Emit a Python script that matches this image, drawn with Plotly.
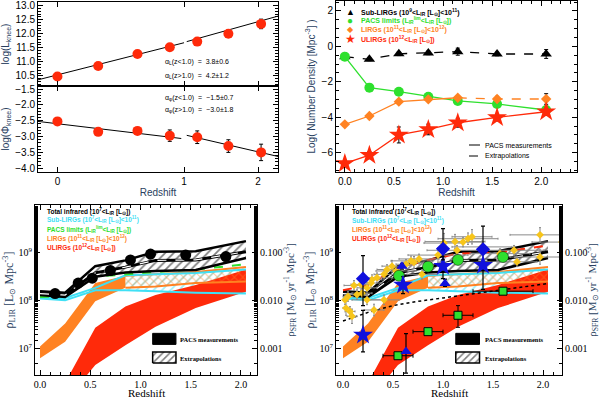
import numpy as np
import plotly.graph_objects as go

# ---------------- data ----------------
z_bins = [0.0, 0.25, 0.55, 0.85, 1.15, 1.55, 2.05]

# top-left: knee luminosity / density
log_lknee = [10.48, 10.85, 11.28, 11.52, 11.72, 12.0, 12.35]
log_lknee_err = [0.05, 0.05, 0.06, 0.1, 0.08, 0.1, 0.17]
log_phiknee = [-2.52, -2.85, -2.82, -2.97, -3.02, -3.3, -3.5]
log_phiknee_err = [0.06, 0.05, 0.1, 0.18, 0.2, 0.2, 0.26]
fit_l_lo_z, fit_l_lo = [-0.101, 1.0], [10.36, 11.68]
fit_l_hi_z, fit_l_hi = [1.03, 2.35], [11.72, 12.63]
fit_p_lo_z, fit_p_lo = [-0.101, 0.97], [-2.52, -3.06]
fit_p_hi_z, fit_p_hi = [1.03, 2.35], [-2.96, -3.63]

# top-right: number densities
nd_sub = [-0.58, -0.73, -0.42, -0.37, -0.3, -0.43, -0.43]
nd_sub_err = [0.1, 0.08, 0.1, 0.1, 0.2, 0.1, 0.25]
nd_lim = [-0.58, -2.33, -2.56, -2.84, -3.08, -3.25, -3.59]
nd_lim_err = [0.05, 0.05, 0.05, 0.05, 0.05, 0.05, 0.1]
nd_lirg = [-4.4, -3.93, -3.12, -2.99, -2.9, -2.97, -2.97]
nd_lirg_err = [0.1, 0.1, 0.1, 0.1, 0.12, 0.15, 0.3]
nd_ulirg = [-6.61, -6.14, -5.0, -4.69, -4.31, -4.01, -3.69]
nd_ulirg_err = [0.15, 0.2, 0.45, 0.3, 0.25, 0.2, 0.2]

# bottom: luminosity density bands (log10 L_sun Mpc^-3)
tot_up = [8.20, 8.17, 8.72, 8.84, 9.02, 9.03, 9.24]
tot_lo = [8.12, 8.08, 8.50, 8.59, 8.62, 8.64, 8.89]
tot_mid = [8.15, 8.12, 8.58, 8.70, 8.84, 8.85, 9.02]
sub_up = [8.10, 8.06, 8.27, 8.53, 8.55, 8.58, 8.65]
sub_lo = [8.05, 8.01, 8.22, 8.22, 8.20, 8.17, 8.15]
lirg_z_meas = [0.0, 0.25, 0.55, 0.85]
lirg_up_meas = [7.05, 7.53, 8.37, 8.52]
lirg_lo_meas = [6.81, 7.15, 7.99, 8.27]
lirg_z_ext = [0.85, 1.15, 1.55, 2.05]
lirg_up_ext = [8.52, 8.55, 8.60, 8.70]
lirg_lo_ext = [8.27, 8.30, 8.37, 8.40]
ulirg_z = [0.25, 0.55, 0.85, 1.15, 1.55, 2.05]
ulirg_up = [6.3, 7.44, 7.88, 8.12, 8.33, 8.65]
ulirg_lo = [5.9, 6.67, 7.08, 7.46, 7.85, 8.19]
lim_line = [8.08, 8.10, 8.50, 8.55, 8.60, 8.65, 8.76]

tot_pts_z = [0.15, 0.38, 0.52, 0.70, 0.90, 1.10, 1.45, 1.85]
tot_pts = [8.15, 8.37, 8.47, 8.63, 8.85, 8.97, 8.95, 8.92]

# bottom-right: models and literature
model_red_z = z_bins
model_red = [8.22, 8.33, 8.68, 8.85, 8.98, 9.0, 9.15]
model_dot_z = [0.0, 0.25, 0.5, 0.75, 1.0, 1.5, 2.05]
model_dot = [7.58, 7.76, 7.90, 7.99, 8.06, 8.20, 8.36]

sq_z = [0.55, 0.85, 1.15, 1.6]
sq_v = [6.86, 7.36, 7.70, 8.20]
sq_zerr = [0.15, 0.15, 0.15, 0.3]
sq_hi = [6.92, 7.42, 7.90, 8.25]
sq_lo = [6.80, 7.30, 7.45, 8.15]

star_z = [0.2, 0.6, 1.0, 1.4]
star_v = [7.29, 8.33, 8.72, 8.74]
star_hi = [7.80, 8.50, 9.01, 9.55]
star_lo = [6.94, 8.15, 8.46, 8.24]

dia_z = [0.2, 1.0, 1.4]
dia_v = [8.46, 9.08, 9.07]
dia_hi = [8.94, 9.50, 9.12]
dia_lo = [7.90, 8.85, 9.02]

tri_z = [0.59, 1.02, 0.63]
tri_v = [8.72, 8.36, 6.95]
tri_hi = [8.78, 8.45, 7.32]
tri_lo = [8.66, 8.30, 6.50]

circ_z = [0.56, 0.85, 1.15, 1.6]
circ_v = [8.52, 8.71, 8.85, 8.91]

lit_z = [0.02, 0.03, 0.05, 0.07, 0.09, 0.11, 0.14, 0.18, 0.19, 0.24, 0.24, 0.28, 0.29,
         0.31, 0.34, 0.41, 0.41, 0.44, 0.49, 0.53, 0.63, 0.68, 0.71, 0.76, 0.79,
         0.95, 1.01, 1.12, 1.20, 1.25, 1.29, 1.14, 1.39, 1.57, 1.71, 1.74, 1.97, 1.97, 2.19]
lit_v = [8.02, 7.85, 8.09, 7.78, 7.68, 8.32, 8.13, 8.34, 8.16, 8.27, 8.02, 8.37, 8.44,
         7.81, 8.48, 8.55, 8.02, 8.65, 8.72, 8.62, 8.76, 8.83, 8.80, 8.87, 8.55,
         8.95, 9.20, 9.23, 9.22, 9.29, 9.33, 9.05, 9.12, 8.98, 9.05, 8.81, 9.37, 8.91, 9.22]
lit_zerr = [0.02, 0.03, 0.05, 0.05, 0.05, 0.1, 0.1, 0.1, 0.1, 0.1, 0.15, 0.1, 0.1,
            0.1, 0.15, 0.1, 0.15, 0.1, 0.1, 0.2, 0.1, 0.2, 0.1, 0.2, 0.15,
            0.3, 0.2, 0.3, 0.2, 0.3, 0.2, 0.3, 0.3, 0.3, 0.3, 0.2, 0.3, 0.3, 0.3]
lit_verr = [0.1, 0.15, 0.1, 0.1, 0.15, 0.1, 0.1, 0.12, 0.1, 0.12, 0.1, 0.1, 0.1,
            0.12, 0.1, 0.1, 0.1, 0.1, 0.12, 0.1, 0.1, 0.1, 0.12, 0.1, 0.1,
            0.15, 0.2, 0.15, 0.1, 0.12, 0.15, 0.1, 0.12, 0.1, 0.1, 0.1, 0.15, 0.15, 0.1]

RED = '#ff2a0a'
ORANGE = '#ff8222'
CYAN = '#3fe0f5'
GREEN = '#2ee02e'
BLUE = '#1010dd'
GOLD = '#f7c51a'
GRAY = '#8a8a8a'

fig = go.Figure()


def lin(v):
    return 10 ** np.array(v, dtype=float)


def errs(v, hi, lo):
    return dict(type='data', symmetric=False, array=lin(hi) - lin(v), arrayminus=lin(v) - lin(lo))


def band(z, up, lo, xa, ya, color, pattern=None, bg='rgba(0,0,0,0)'):
    xs = list(z) + list(z)[::-1]
    ys = list(lin(up)) + list(lin(lo))[::-1]
    kw = dict(fill='toself', mode='none', x=xs, y=ys, xaxis=xa, yaxis=ya, hoverinfo='skip')
    if pattern:
        kw['fillpattern'] = dict(shape=pattern, fgcolor=color, bgcolor=bg, size=6, solidity=0.3)
        kw['fillcolor'] = bg
    else:
        kw['fillcolor'] = color
    fig.add_trace(go.Scatter(**kw))


def line(z, v, xa, ya, color, width=1.5, dash='solid', log=True):
    fig.add_trace(go.Scatter(x=z, y=lin(v) if log else v, mode='lines', xaxis=xa, yaxis=ya,
                             line=dict(color=color, width=width, dash=dash), hoverinfo='skip'))


# ---------------- top-left ----------------
zp1 = [1 + z for z in z_bins]
line([1 + z for z in fit_l_lo_z], fit_l_lo, 'x', 'y', 'black', 1, log=False)
line([1 + z for z in fit_l_hi_z], fit_l_hi, 'x', 'y', 'black', 1, log=False)
line([1 + z for z in fit_p_lo_z], fit_p_lo, 'x2', 'y2', 'black', 1, log=False)
line([1 + z for z in fit_p_hi_z], fit_p_hi, 'x2', 'y2', 'black', 1, log=False)
fig.add_trace(go.Scatter(x=zp1, y=log_lknee, mode='markers', xaxis='x', yaxis='y',
                         marker=dict(color=RED, size=10),
                         error_y=dict(array=log_lknee_err, color='black', thickness=1, width=2)))
fig.add_trace(go.Scatter(x=zp1, y=log_phiknee, mode='markers', xaxis='x2', yaxis='y2',
                         marker=dict(color=RED, size=10),
                         error_y=dict(array=log_phiknee_err, color='black', thickness=1, width=2)))

# ---------------- top-right ----------------
line(z_bins, nd_sub, 'x3', 'y3', 'black', 1.3, 'dash', log=False)
line(z_bins, nd_lim, 'x3', 'y3', GREEN, 1.3, log=False)
line(z_bins[:5], nd_lirg[:5], 'x3', 'y3', ORANGE, 1.3, log=False)
line(z_bins[4:], nd_lirg[4:], 'x3', 'y3', ORANGE, 1.3, 'dash', log=False)
line(z_bins, nd_ulirg, 'x3', 'y3', RED, 1.3, log=False)
for vals, err, sym, col, size in [(nd_sub, nd_sub_err, 'triangle-up', 'black', 10),
                                  (nd_lim, nd_lim_err, 'circle', GREEN, 10),
                                  (nd_lirg, nd_lirg_err, 'diamond', ORANGE, 8),
                                  (nd_ulirg, nd_ulirg_err, 'star', RED, 15)]:
    fig.add_trace(go.Scatter(x=z_bins, y=vals, mode='markers', xaxis='x3', yaxis='y3',
                             marker=dict(symbol=sym, color=col, size=size, line=dict(width=0)),
                             error_y=dict(array=err, color='black', thickness=1, width=2)))


# ---------------- bottom panels ----------------
def bands(xa, ya, with_limits):
    band(z_bins[1:], sub_up[1:], sub_lo[1:], xa, ya, CYAN, '/', 'white')
    band(ulirg_z, ulirg_up, ulirg_lo, xa, ya, RED)
    band(lirg_z_ext, lirg_up_ext, lirg_lo_ext, xa, ya, ORANGE, 'x')
    band(lirg_z_meas, lirg_up_meas, lirg_lo_meas, xa, ya, ORANGE)
    band(z_bins[:2], sub_up[:2], sub_lo[:2], xa, ya, CYAN)
    line(lirg_z_ext, lirg_up_ext, xa, ya, ORANGE, 2)
    line(lirg_z_ext, lirg_lo_ext, xa, ya, ORANGE, 2)
    line(z_bins, sub_up, xa, ya, CYAN, 2)
    line(z_bins, sub_lo, xa, ya, CYAN, 2)
    if with_limits:
        line(z_bins, lim_line, xa, ya, GREEN, 2, 'dash')
    band(z_bins, tot_up, tot_lo, xa, ya, 'black', '/', 'white')
    line(z_bins, tot_up, xa, ya, 'black', 2.5)
    line(z_bins, tot_lo, xa, ya, 'black', 2.5)
    line(z_bins, tot_mid, xa, ya, 'black', 3)
    line(z_bins, tot_mid, xa, ya, 'white', 1.2, 'dash')


bands('x4', 'y4', True)
fig.add_trace(go.Scatter(x=tot_pts_z, y=lin(tot_pts), mode='markers', xaxis='x4', yaxis='y4',
                         marker=dict(color='black', size=11)))

bands('x6', 'y6', False)
line(model_red_z, model_red, 'x6', 'y6', RED, 2, 'dash')
line(model_dot_z, model_dot, 'x6', 'y6', 'black', 1.5, 'dot')
fig.add_trace(go.Scatter(x=lit_z, y=lin(lit_v), mode='markers', xaxis='x6', yaxis='y6',
                         marker=dict(symbol='diamond', color=GOLD, size=6),
                         error_x=dict(array=lit_zerr, color=GRAY, thickness=1, width=1),
                         error_y=errs(lit_v, np.add(lit_v, lit_verr), np.subtract(lit_v, lit_verr))
                         | dict(color=GRAY, thickness=1, width=1)))
fig.add_trace(go.Scatter(x=circ_z, y=lin(circ_v), mode='markers', xaxis='x6', yaxis='y6',
                         marker=dict(color=GREEN, size=11, line=dict(color='black', width=0.5))))
fig.add_trace(go.Scatter(x=sq_z, y=lin(sq_v), mode='markers', xaxis='x6', yaxis='y6',
                         marker=dict(symbol='square', color=GREEN, size=8, line=dict(color='black', width=1)),
                         error_x=dict(array=sq_zerr, color='black', thickness=1, width=2),
                         error_y=errs(sq_v, sq_hi, sq_lo) | dict(color='black', thickness=1, width=2)))
for zz, vv, hi, lo, sym, size in [(star_z, star_v, star_hi, star_lo, 'star', 15),
                                  (dia_z, dia_v, dia_hi, dia_lo, 'diamond', 11),
                                  (tri_z, tri_v, tri_hi, tri_lo, 'triangle-up', 10)]:
    fig.add_trace(go.Scatter(x=zz, y=lin(vv), mode='markers', xaxis='x6', yaxis='y6',
                             marker=dict(symbol=sym, color=BLUE, size=size, line=dict(width=0)),
                             error_y=errs(vv, hi, lo) | dict(color='black', thickness=1.2, width=2)))

# invisible traces so the SFR axes get drawn
for xa, ya in [('x4', 'y5'), ('x6', 'y7')]:
    fig.add_trace(go.Scatter(x=[1.0], y=[0.01], mode='markers', xaxis=xa, yaxis=ya,
                             marker=dict(opacity=0), hoverinfo='skip'))

# legend swatches on helper axes (0..1 box coordinates)
for xa, ya in [('x8', 'y8'), ('x9', 'y9')]:
    fig.add_trace(go.Scatter(x=[0.53, 0.635, 0.635, 0.53, 0.53], y=[0.18, 0.18, 0.245, 0.245, 0.18],
                             fill='toself', fillcolor='black', mode='lines', line=dict(color='black', width=1),
                             xaxis=xa, yaxis=ya, hoverinfo='skip'))
    fig.add_trace(go.Scatter(x=[0.53, 0.635, 0.635, 0.53, 0.53], y=[0.07, 0.07, 0.135, 0.135, 0.07],
                             fill='toself', fillcolor='white', mode='lines', line=dict(color='black', width=1.5),
                             fillpattern=dict(shape='/', fgcolor='black', bgcolor='white', size=5, solidity=0.3),
                             xaxis=xa, yaxis=ya, hoverinfo='skip'))

# ---------------- layout ----------------
W, H = 600, 398
SANS = 'Liberation Sans'
SERIF = 'Liberation Serif'


def px(x):
    return x / W


def py(y):
    return 1 - y / H


def axis(**kw):
    base = dict(showline=True, linecolor='black', linewidth=1, mirror='ticks', ticks='inside',
                ticklen=5, tickcolor='black', showgrid=False, zeroline=False, automargin=False,
                tickfont=dict(family=SANS, size=10, color='black'))
    base.update(kw)
    return base


tl_x = [px(38), px(278)]
tr_x = [px(336), px(577)]
bl_x = [px(35), px(257)]
br_x = [px(336), px(562)]
b_y = [py(375), py(205)]
xr_log = [np.log10(0.899), np.log10(3.346)]
minor_b = dict(ticks='inside', ticklen=3, tickcolor='black', dtick=0.1)
b_font = dict(family=SERIF, size=10, color='black')

layout = dict(
    width=W, height=H, margin=dict(l=0, r=0, t=0, b=0, autoexpand=False), showlegend=False,
    paper_bgcolor='white', plot_bgcolor='rgba(0,0,0,0)',
    xaxis=axis(domain=tl_x, anchor='y', type='log', range=xr_log, tickvals=[1, 2, 3],
               showticklabels=False),
    yaxis=axis(domain=[py(86), py(2)], anchor='x', range=[10.14, 13.13], dtick=0.5,
               tickformat='.1f', minor=dict(ticks='inside', ticklen=3, dtick=0.1),
               title=dict(text='log(L<sub>knee</sub>)', font=dict(family=SANS, size=10), standoff=4)),
    xaxis2=axis(domain=tl_x, anchor='y2', type='log', range=xr_log, tickvals=[1, 2, 3],
                ticktext=['0', '1', '2'],
                title=dict(text='Redshift', font=dict(family=SANS, size=10), standoff=2)),
    yaxis2=axis(domain=[py(172), py(86)], anchor='x2', range=[-4.12, -1.40], dtick=0.5,
                tickformat='.1f', minor=dict(ticks='inside', ticklen=3, dtick=0.1),
                title=dict(text='log(Φ<sub>knee</sub>)', font=dict(family=SANS, size=10), standoff=4)),
    xaxis3=axis(domain=tr_x, anchor='y3', range=[-0.09, 2.364], dtick=0.5, tickformat='.1f',
                minor=dict(ticks='inside', ticklen=3, dtick=0.1),
                title=dict(text='Redshift', font=dict(family=SANS, size=10), standoff=2)),
    yaxis3=axis(domain=[py(172), py(1)], anchor='x3', range=[-7.09, 2.56], dtick=2,
                minor=dict(ticks='inside', ticklen=3, dtick=0.5),
                title=dict(text='Log( Number Density [Mpc<sup>-3</sup>] )',
                           font=dict(family=SANS, size=10), standoff=4)),
    xaxis4=axis(domain=bl_x, anchor='y4', range=[-0.05, 2.16], dtick=0.5, tickformat='.1f',
                tickfont=b_font, minor=minor_b),
    yaxis4=axis(domain=b_y, anchor='x4', type='log', range=[6.46, 9.99], mirror=True,
                tickvals=[1e7, 1e8, 1e9], ticktext=['10<sup>7</sup>', '10<sup>8</sup>', '10<sup>9</sup>'],
                tickfont=b_font, minor=dict(ticks='inside', ticklen=3),
                title=dict(text='ρ<sub>LIR</sub> [L<sub>⊙</sub> Mpc<sup>-3</sup>]',
                           font=dict(family=SERIF, size=12), standoff=2)),
    yaxis5=axis(domain=b_y, anchor='x4', overlaying='y4', side='right', type='log',
                range=[-3.54, -0.01], mirror=False, tickvals=[0.001, 0.01, 0.1],
                ticktext=['0.001', '0.010', '0.100'], tickfont=b_font,
                minor=dict(ticks='inside', ticklen=3),
                title=dict(text='ρ<sub>SFR</sub> [M<sub>⊙</sub> yr<sup>-1</sup> Mpc<sup>-3</sup>]',
                           font=dict(family=SERIF, size=11), standoff=2)),
    xaxis6=axis(domain=br_x, anchor='y6', range=[-0.07, 2.19], dtick=0.5, tickformat='.1f',
                tickfont=b_font, minor=minor_b),
    yaxis6=axis(domain=b_y, anchor='x6', type='log', range=[6.46, 9.99], mirror=True,
                tickvals=[1e7, 1e8, 1e9], ticktext=['10<sup>7</sup>', '10<sup>8</sup>', '10<sup>9</sup>'],
                tickfont=b_font, minor=dict(ticks='inside', ticklen=3),
                title=dict(text='ρ<sub>LIR</sub> [L<sub>⊙</sub> Mpc<sup>-3</sup>]',
                           font=dict(family=SERIF, size=12), standoff=2)),
    yaxis7=axis(domain=b_y, anchor='x6', overlaying='y6', side='right', type='log',
                range=[-3.54, -0.01], mirror=False, tickvals=[0.001, 0.01, 0.1],
                ticktext=['0.001', '0.010', '0.100'], tickfont=b_font,
                minor=dict(ticks='inside', ticklen=3),
                title=dict(text='ρ<sub>SFR</sub> [M<sub>⊙</sub> yr<sup>-1</sup> Mpc<sup>-3</sup>]',
                           font=dict(family=SERIF, size=11), standoff=2)),
    xaxis8=dict(domain=bl_x, anchor='y8', range=[0, 1], visible=False),
    yaxis8=dict(domain=b_y, anchor='x8', range=[0, 1], visible=False),
    xaxis9=dict(domain=br_x, anchor='y9', range=[0, 1], visible=False),
    yaxis9=dict(domain=b_y, anchor='x9', range=[0, 1], visible=False),
)
fig.update_layout(**layout)

ann = []


def text(x, y, s, color='black', size=7, family=SANS, anchor='left'):
    ann.append(dict(x=px(x), y=py(y), xref='paper', yref='paper', text=s, showarrow=False,
                    xanchor=anchor, yanchor='middle', font=dict(family=family, size=size, color=color)))


# top-left fit labels
text(163, 62, 'α<sub>L</sub>(z&lt;1.0)  =  3.8±0.6')
text(163, 76, 'α<sub>L</sub>(z&gt;1.0)  =  4.2±1.2')
text(163, 98, 'α<sub>φ</sub>(z&lt;1.0)  =  −1.5±0.7')
text(163, 110, 'α<sub>φ</sub>(z&gt;1.0)  =  −3.0±1.8')

# top-right legend
lir = 'L<sub>IR</sub> [L<sub>⊙</sub>]'
tr_items = [('▲', 'black', 9, f'Sub-LIRGs (10<sup>9</sup>&lt;{lir}&lt;10<sup>11</sup>)'),
            ('●', GREEN, 10, f'PACS limits (L<sub>IR</sub><sup>lim</sup>&lt;{lir})'),
            ('◆', ORANGE, 8, f'LIRGs (10<sup>11</sup>&lt;{lir}&lt;10<sup>12</sup>)'),
            ('★', RED, 12, f'ULIRGs (10<sup>12</sup>&lt;{lir})')]
for i, (sym, col, sz, label) in enumerate(tr_items):
    yy = 12 + 9 * i
    text(350, yy, sym, col, sz, anchor='center')
    text(359, yy, f'<b>{label}</b>', col, 7)
text(483, 145, 'PACS measurements', 'black', 7)
text(483, 156, 'Extrapolations', 'black', 7)

# bottom legends
bl_items = [('black', f'Total infrared (10<sup>7</sup>&lt;{lir})'),
            (CYAN, f'Sub-LIRGs (10<sup>7</sup>&lt;{lir}&lt;10<sup>11</sup>)'),
            (GREEN, f'PACS limits (L<sub>IR</sub><sup>lim</sup>&lt;{lir})'),
            (ORANGE, f'LIRGs (10<sup>11</sup>&lt;{lir}&lt;10<sup>12</sup>)'),
            (RED, f'ULIRGs (10<sup>12</sup>&lt;{lir})')]
for i, (col, label) in enumerate(bl_items):
    text(45, 211 + 9 * i, f'<b>{label}</b>', col, 6.5)
for i, (col, label) in enumerate([bl_items[0], bl_items[1], bl_items[3], bl_items[4]]):
    text(350, 211 + 9.3 * i, f'<b>{label}</b>', col, 6.5)
for x0 in (178, 483):
    text(x0, 339, '<b>PACS measurements</b>', 'black', 6.5, SERIF)
    text(x0, 358, '<b>Extrapolations</b>', 'black', 6.5, SERIF)

# bottom x-axis titles
text(146, 393, 'Redshift', 'black', 11, SERIF, 'center')
text(449, 393, 'Redshift', 'black', 11, SERIF, 'center')

fig.update_layout(annotations=ann)

fig.add_shape(type='line', xref='paper', yref='paper', x0=px(469), x1=px(480), y0=py(145), y1=py(145),
              line=dict(color='black', width=1))
fig.add_shape(type='line', xref='paper', yref='paper', x0=px(469), x1=px(480), y0=py(156), y1=py(156),
              line=dict(color='black', width=1, dash='dash'))

fig.write_html("out.html", post_script="document.body.style.margin='0';",
               config={'displayModeBar': False})
